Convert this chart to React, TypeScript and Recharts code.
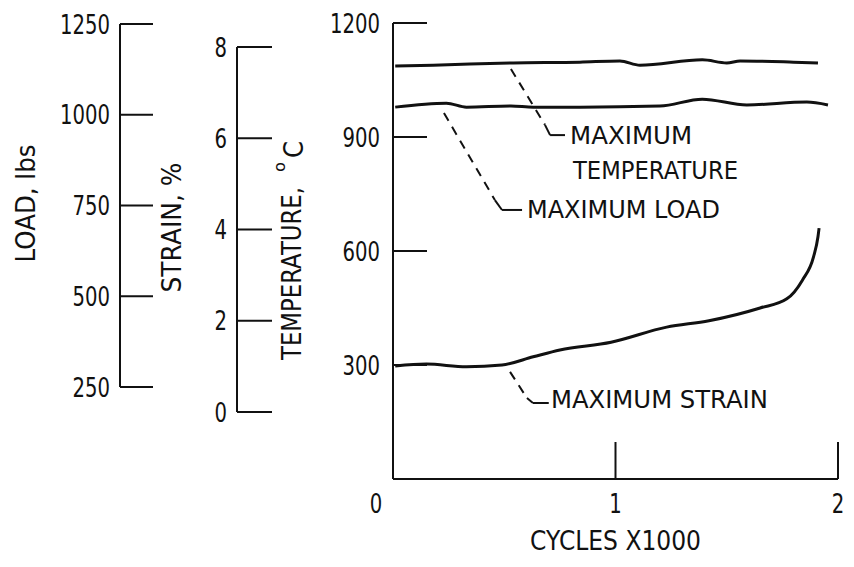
import { ComposedChart, Line, XAxis, YAxis, ReferenceLine, ReferenceDot } from "recharts";

// cycles are in thousands
const tempCycles = [0.01, 0.18, 0.54, 0.84, 1.02, 1.11, 1.39, 1.5, 1.56, 1.8, 1.91];
const tempValues = [1087, 1089, 1095, 1097, 1100, 1089, 1103, 1095, 1100, 1097, 1095];

const loadCycles = [0.01, 0.24, 0.33, 0.53, 0.63, 0.84, 1.2, 1.39, 1.59, 1.86, 1.955];
const loadValues = [1021, 1032, 1021, 1024, 1021, 1021, 1024, 1043, 1027, 1035, 1027];

const strainCycles = [0.01, 0.15, 0.33, 0.49, 0.63, 0.75, 0.98, 1.23, 1.42, 1.65, 1.77, 1.84, 1.89, 1.91, 1.915];
const strainValues = [1.01, 1.05, 0.99, 1.03, 1.21, 1.36, 1.53, 1.86, 2.0, 2.28, 2.48, 2.89, 3.4, 3.84, 4.03];

const cycleTicks = [0, 1, 2];
const tempTicks = [300, 600, 900, 1200];
const loadTicks = [250, 500, 750, 1000, 1250];
const strainTicks = [0, 2, 4, 6, 8];

const tempData = tempCycles.map((c, i) => ({ c, v: tempValues[i] }));
const loadData = loadCycles.map((c, i) => ({ c, v: loadValues[i] }));
const strainData = strainCycles.map((c, i) => ({ c, v: strainValues[i] }));

const INK = "#111";
const FONT = '"DejaVu Sans", Verdana, sans-serif';

// layout (pixels)
const PLOT_TOP = 23;
const PLOT_BOTTOM = 479;
const LOAD_TOP = 24;
const LOAD_BOTTOM = 387;
const STRAIN_TOP = 47;
const STRAIN_BOTTOM = 412;
const SIDE_H = 470;

// stretch an axis range that spans [pxTop, pxBottom] to the full main plot height
function stretch(lo: number, hi: number, pxTop: number, pxBottom: number): [number, number] {
  const perPx = (hi - lo) / (pxBottom - pxTop);
  return [lo - (PLOT_BOTTOM - pxBottom) * perPx, hi + (pxTop - PLOT_TOP) * perPx];
}
const loadDomain = stretch(250, 1250, LOAD_TOP, LOAD_BOTTOM);
const strainDomain = stretch(0, 8, STRAIN_TOP, STRAIN_BOTTOM);

const leaders = [
  { dash: [[0.53, 1079], [0.683, 932]], bend: [[0.683, 932], [0.706, 905], [0.773, 905]] },
  { dash: [[0.229, 963], [0.458, 734]], bend: [[0.458, 734], [0.49, 708], [0.58, 708]] },
  { dash: [[0.526, 282], [0.602, 213]], bend: [[0.602, 213], [0.629, 200], [0.7, 200]] },
];

const notes = [
  { x: 0.796, y: 882, text: "MAXIMUM", w: 122 },
  { x: 0.809, y: 790, text: "TEMPERATURE", w: 165 },
  { x: 0.602, y: 687, text: "MAXIMUM LOAD", w: 193 },
  { x: 0.71, y: 187, text: "MAXIMUM STRAIN", w: 217 },
];

const DIGIT_W = 12.5;

function InTick(props: any) {
  const { x, y, payload, gap, len } = props;
  const ax = x + gap;
  const label = String(payload.value);
  return (
    <g>
      <line x1={ax} x2={ax + len} y1={y} y2={y} stroke={INK} strokeWidth={2} />
      <text
        x={x}
        y={y}
        textAnchor="end"
        dominantBaseline="central"
        fill={INK}
        fontFamily={FONT}
        fontSize={27}
        textLength={label.length * DIGIT_W}
        lengthAdjust="spacingAndGlyphs"
      >
        {label}
      </text>
    </g>
  );
}

function CycleTick(props: any) {
  const { x, y, payload } = props;
  const ay = y - 24;
  const first = payload.value === 0;
  return (
    <g>
      {!first && <line x1={x} x2={x} y1={ay} y2={ay - 37} stroke={INK} strokeWidth={2} />}
      <text
        x={first ? x - 17 : x}
        y={y}
        textAnchor="middle"
        dominantBaseline="central"
        fill={INK}
        fontFamily={FONT}
        fontSize={27}
        textLength={DIGIT_W}
        lengthAdjust="spacingAndGlyphs"
      >
        {payload.value}
      </text>
    </g>
  );
}

// vertical title, centred at (cx, cy), reading bottom to top
function VTitle({ cx, cy, text, len }: any) {
  return (
    <g transform={`translate(${cx},${cy}) rotate(-90)`}>
      <text
        x={0}
        y={0}
        textAnchor="middle"
        dominantBaseline="central"
        fill={INK}
        fontFamily={FONT}
        fontSize={26}
        textLength={len}
        lengthAdjust="spacingAndGlyphs"
      >
        {text}
      </text>
    </g>
  );
}

function TempTitle({ cx, cy }: any) {
  return (
    <g transform={`translate(${cx},${cy}) rotate(-90)`} fill={INK} fontFamily={FONT}>
      <text x={-109} y={0} dominantBaseline="central" fontSize={26} textLength={173} lengthAdjust="spacingAndGlyphs">
        TEMPERATURE,
      </text>
      <text x={79} y={-12} dominantBaseline="central" fontSize={15} textLength={10} lengthAdjust="spacingAndGlyphs">
        o
      </text>
      <text x={93} y={2} dominantBaseline="central" fontSize={26} textLength={17} lengthAdjust="spacingAndGlyphs">
        C
      </text>
    </g>
  );
}

const axisLine = { stroke: INK, strokeWidth: 2 };

export default function App() {
  return (
    <div style={{ position: "absolute", left: 0, top: 0, width: 854, height: 567, background: "#fff" }}>
      <div style={{ position: "absolute", left: 0, top: 0 }}>
        <ComposedChart width={854} height={567} margin={{ top: PLOT_TOP, right: 16, bottom: 58, left: 333 }}>
          <XAxis
            type="number"
            dataKey="c"
            domain={[0, 2]}
            ticks={cycleTicks}
            height={30}
            tickSize={0}
            tickMargin={24}
            tickLine={false}
            axisLine={axisLine}
            tick={(p: any) => <CycleTick {...p} />}
            label={(p: any) => (
              <text
                x={p.viewBox.x + p.viewBox.width / 2}
                y={p.viewBox.y + 61}
                textAnchor="middle"
                dominantBaseline="central"
                fill={INK}
                fontFamily={FONT}
                fontSize={27}
                textLength={171}
                lengthAdjust="spacingAndGlyphs"
              >
                CYCLES X1000
              </text>
            )}
          />
          <YAxis
            yAxisId="temp"
            domain={[0, 1200]}
            ticks={tempTicks}
            width={60}
            tickSize={0}
            tickMargin={13}
            tickLine={false}
            axisLine={axisLine}
            tick={(p: any) => <InTick {...p} gap={13} len={34} />}
            label={(p: any) => <TempTitle cx={p.viewBox.x + p.viewBox.width - 101} cy={p.viewBox.y + p.viewBox.height / 2} />}
          />
          <YAxis yAxisId="load" hide width={0} domain={loadDomain} allowDataOverflow />
          <YAxis yAxisId="strain" hide width={0} domain={strainDomain} allowDataOverflow />

          <Line data={tempData} dataKey="v" yAxisId="temp" type="monotone" stroke={INK} strokeWidth={3} dot={false} isAnimationActive={false} />
          <Line data={loadData} dataKey="v" yAxisId="load" type="monotone" stroke={INK} strokeWidth={3} dot={false} isAnimationActive={false} />
          <Line data={strainData} dataKey="v" yAxisId="strain" type="monotone" stroke={INK} strokeWidth={3} dot={false} isAnimationActive={false} />

          {leaders.map((l, i) => (
            <ReferenceLine
              key={`d${i}`}
              yAxisId="temp"
              segment={[{ x: l.dash[0][0], y: l.dash[0][1] }, { x: l.dash[1][0], y: l.dash[1][1] }]}
              stroke={INK}
              strokeWidth={2}
              strokeDasharray="9 7"
              ifOverflow="visible"
            />
          ))}
          {leaders.flatMap((l, i) =>
            [0, 1].map((k) => (
              <ReferenceLine
                key={`b${i}${k}`}
                yAxisId="temp"
                segment={[{ x: l.bend[k][0], y: l.bend[k][1] }, { x: l.bend[k + 1][0], y: l.bend[k + 1][1] }]}
                stroke={INK}
                strokeWidth={2}
                ifOverflow="visible"
              />
            ))
          )}
          {notes.map((n) => (
            <ReferenceDot
              key={n.text}
              yAxisId="temp"
              x={n.x}
              y={n.y}
              r={0}
              ifOverflow="visible"
              shape={(p: any) => (
                <text
                  x={p.cx}
                  y={p.cy}
                  fill={INK}
                  fontFamily={FONT}
                  fontSize={24}
                  textLength={n.w}
                  lengthAdjust="spacingAndGlyphs"
                >
                  {n.text}
                </text>
              )}
            />
          ))}
        </ComposedChart>
      </div>

      {/* LOAD axis */}
      <div style={{ position: "absolute", left: 0, top: 0 }}>
        <ComposedChart width={170} height={SIDE_H} data={loadData} margin={{ top: LOAD_TOP, right: 20, bottom: SIDE_H - LOAD_BOTTOM, left: 60 }}>
          <XAxis type="number" dataKey="c" domain={[0, 2]} hide />
          <YAxis
            domain={[250, 1250]}
            ticks={loadTicks}
            allowDataOverflow
            width={60}
            tickSize={0}
            tickMargin={10}
            tickLine={false}
            axisLine={axisLine}
            tick={(p: any) => <InTick {...p} gap={10} len={33} />}
            label={(p: any) => (
              <VTitle cx={p.viewBox.x + p.viewBox.width - 94} cy={p.viewBox.y + p.viewBox.height / 2 - 2} text="LOAD, lbs" len={118} />
            )}
          />
        </ComposedChart>
      </div>

      {/* STRAIN axis */}
      <div style={{ position: "absolute", left: 0, top: 0 }}>
        <ComposedChart width={300} height={SIDE_H} data={strainData} margin={{ top: STRAIN_TOP, right: 20, bottom: SIDE_H - STRAIN_BOTTOM, left: 177 }}>
          <XAxis type="number" dataKey="c" domain={[0, 2]} hide />
          <YAxis
            domain={[0, 8]}
            ticks={strainTicks}
            allowDataOverflow
            width={60}
            tickSize={0}
            tickMargin={10}
            tickLine={false}
            axisLine={axisLine}
            tick={(p: any) => <InTick {...p} gap={10} len={35} />}
            label={(p: any) => (
              <VTitle cx={p.viewBox.x + p.viewBox.width - 65} cy={p.viewBox.y + p.viewBox.height / 2 - 2} text="STRAIN, %" len={130} />
            )}
          />
        </ComposedChart>
      </div>
    </div>
  );
}
